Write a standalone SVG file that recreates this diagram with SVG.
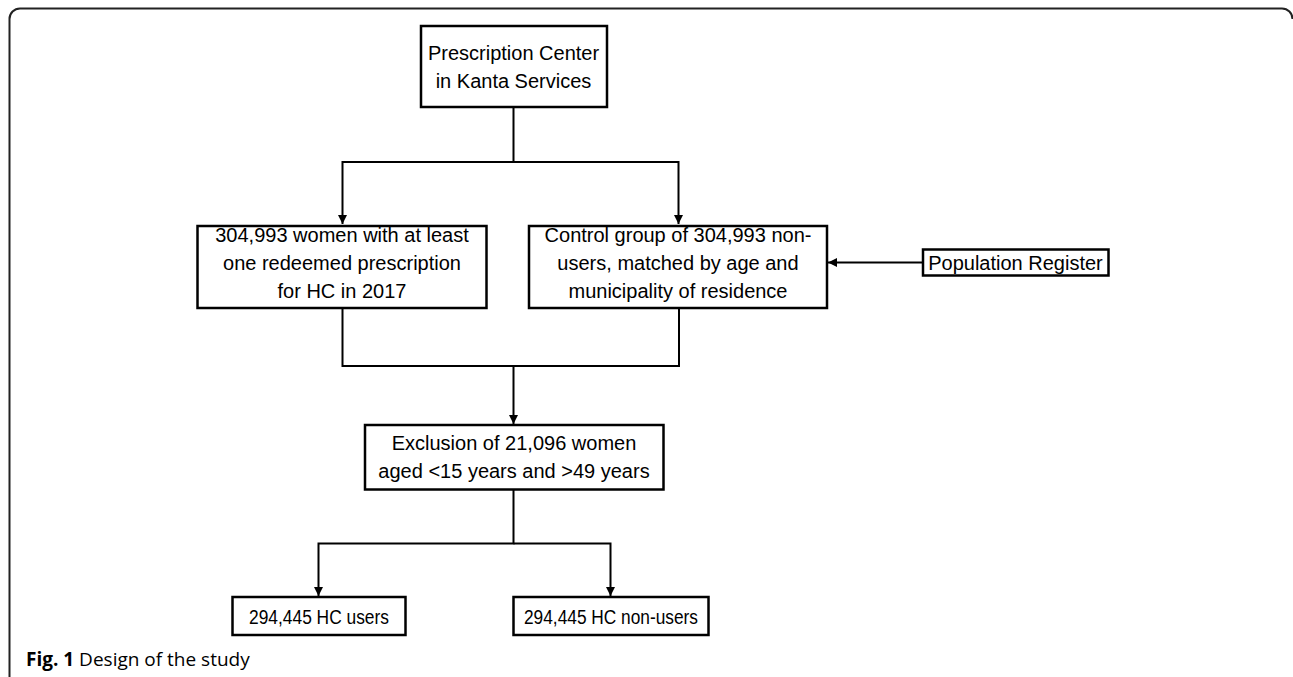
<svg xmlns="http://www.w3.org/2000/svg" width="1293" height="677" viewBox="0 0 1293 677">
<style>
.box{fill:#fff;stroke:#000;stroke-width:2.5}
.t{font-family:"Liberation Sans",Arial,sans-serif;font-size:20px;fill:#000;text-anchor:middle}
.c{fill:none;stroke:#000;stroke-width:2}
.cap{font-family:"Open Sans","Noto Sans",sans-serif;font-size:19px;fill:#000}
</style>
<defs>
<marker id="ah" viewBox="0 0 10 10" refX="10" refY="5" markerWidth="4.5" markerHeight="4.5" orient="auto" markerUnits="strokeWidth">
<path d="M0,0 L10,5 L0,10 Z" fill="#000"/>
</marker>
</defs>
<path d="M9.5,677 V19 A10.5,10.5 0 0 1 20,8.5 H1282 A10.5,10.5 0 0 1 1292.5,19" fill="none" stroke="#222" stroke-width="2"/>
<g id="connectors">
<path class="c" d="M513.5,107 V162 H342.5 V224" marker-end="url(#ah)"/>
<path class="c" d="M513.5,162 H678.5 V224" marker-end="url(#ah)"/>
<path class="c" d="M923,262.5 H828" marker-end="url(#ah)"/>
<path class="c" d="M342.5,308 V366 H679 V308"/>
<path class="c" d="M513.5,366 V424" marker-end="url(#ah)"/>
<path class="c" d="M513.5,490 V543.5 H318.5 V596" marker-end="url(#ah)"/>
<path class="c" d="M513.5,543.5 H610.5 V596" marker-end="url(#ah)"/>
</g>
<g id="n-prescription">
<rect class="box" x="421" y="26" width="186" height="81"/>
<text class="t" x="513.5" y="60">Prescription Center</text>
<text class="t" x="513.5" y="88">in Kanta Services</text>
</g>
<g id="n-women">
<rect class="box" x="197.5" y="226" width="289" height="82"/>
<text class="t" x="342" y="242">304,993 women with at least</text>
<text class="t" x="342" y="270">one redeemed prescription</text>
<text class="t" x="342" y="298">for HC in 2017</text>
</g>
<g id="n-control">
<rect class="box" x="529" y="226" width="298" height="82"/>
<text class="t" x="678" y="242">Control group of 304,993 non-</text>
<text class="t" x="678" y="270">users, matched by age and</text>
<text class="t" x="678" y="298">municipality of residence</text>
</g>
<g id="n-population">
<rect class="box" x="923" y="249.5" width="185.5" height="26"/>
<text class="t" x="1015.5" y="269.5">Population Register</text>
</g>
<g id="n-exclusion">
<rect class="box" x="365" y="425" width="298.5" height="64.5"/>
<text class="t" x="514" y="450">Exclusion of 21,096 women</text>
<text class="t" x="514" y="478">aged &lt;15 years and &gt;49 years</text>
</g>
<g id="n-users">
<rect class="box" x="232.5" y="597" width="173" height="38"/>
<text class="t" x="319" y="624" textLength="140" lengthAdjust="spacingAndGlyphs">294,445 HC users</text>
</g>
<g id="n-nonusers">
<rect class="box" x="513.5" y="597" width="195" height="38"/>
<text class="t" x="611" y="624" textLength="174" lengthAdjust="spacingAndGlyphs">294,445 HC non-users</text>
</g>
<text class="cap" x="26" y="666"><tspan font-weight="bold">Fig. 1</tspan> Design of the study</text>
</svg>
